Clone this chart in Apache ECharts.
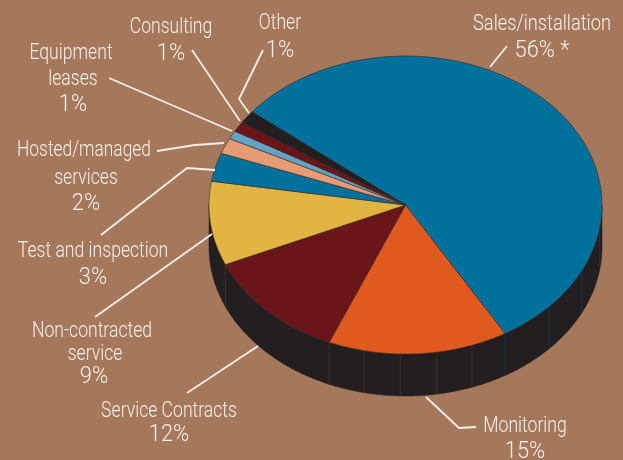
<!DOCTYPE html>
<html><head><meta charset="utf-8">
<style>html,body{margin:0;padding:0;background:#a5785c}#c{width:623px;height:460px}</style>
<script src="https://cdn.jsdelivr.net/npm/echarts@6/dist/echarts.min.js"></script>
</head><body><div id="c"></div>
<script>
const categories = ['Sales/installation','Monitoring','Service Contracts','Non-contracted service','Test and inspection','Hosted/managed services','Equipment leases','Consulting','Other'];
// slice sizes as drawn in the picture (the printed labels round these)
const values = [55.8,14.8,12.1,9.1,3.1,1.7,0.9,1.1,1.4];
const colors = ['#00719c','#e0591e','#69151a','#e2b441','#00719c','#e59b74','#5fa4c4','#69151a','#231f20'];
const wallFacets = [12,5,1,1,1,1,1,1,1];
const wallLineColors = ['#0d4058','#5a2c1a','#4a3430','#3a3430','#231f20','#231f20','#231f20','#231f20','#231f20'];

const geo = {cx:405.5, cy:205, rx:196.5, ry:149, depth:42, start:-51.3};
const total = values.reduce((a,b)=>a+b,0);
function pt(t,dy){const r=t*Math.PI/180;return [geo.cx+geo.rx*Math.sin(r), geo.cy-geo.ry*Math.cos(r)+(dy||0)];}
function arc(a,b,dy){const n=Math.max(2,Math.ceil(Math.abs(b-a)));const o=[];for(let i=0;i<=n;i++)o.push(pt(a+(b-a)*i/n,dy));return o;}

function renderSlice(params, api){
  const i=params.dataIndex;
  let sum=0; for(let k=0;k<i;k++) sum+=values[k];
  const a=geo.start+sum/total*360, b=a+api.value(0)/total*360;
  const children=[];
  for(const off of [0,360]){
    const s=Math.max(a+off,90), e=Math.min(b+off,270);
    if(e>s){
      children.push({type:'polygon',z2:1,shape:{points:arc(s,e,0).concat(arc(e,s,geo.depth))},style:{fill:'#231f20',stroke:'#231f20',lineWidth:0.5}});
      const n=wallFacets[i], step=(b-a)/n;
      for(let k=0;k<n;k++){
        const t=b+off-k*step;
        if(t>90&&t<270){const p=pt(t),q=pt(t,geo.depth);
          children.push({type:'line',z2:2,shape:{x1:p[0],y1:p[1],x2:q[0],y2:q[1]},style:{stroke:wallLineColors[i],lineWidth:0.7}});}
      }
    }
  }
  children.push({type:'polygon',z2:5,shape:{points:[[geo.cx,geo.cy]].concat(arc(a,b,0))},style:{fill:colors[i],stroke:'#3a2a26',lineWidth:0.6}});
  return {type:'group',children};
}

const ink='#f6f0e9', fontFamily='Roboto,sans-serif';
const T=(t,x,y,sx)=>({type:'text',z:10,x,y:y+1,scaleX:sx||0.8,style:{text:t,fill:ink,font:'300 22px '+fontFamily,align:'center',verticalAlign:'middle'}});
const P=(t,x,y)=>({type:'text',z:10,x,y:y+1,scaleX:0.95,style:{text:t,fill:ink,font:'300 23px '+fontFamily,align:'center',verticalAlign:'middle'}});
const L=(pts)=>({type:'polyline',z:10,shape:{points:pts},style:{stroke:ink,lineWidth:1.8,fill:null}});

const chart=echarts.init(document.getElementById('c'),null,{renderer:'canvas'});
chart.setOption({
  backgroundColor:'#a5785c',
  animation:false,
  series:[{type:'custom',coordinateSystem:'none',renderItem:renderSlice,
    data:values.map((v,i)=>({name:categories[i],value:[v]}))}],
  graphic:[
    T('Other',280,22),P('1%',280,50),L([[263,50],[239,99],[249,113]]),
    T('Consulting',171,26),P('1%',171,53),L([[192,50],[240,121]]),
    T('Equipment',71,52),T('leases',73,78),P('1%',73,104),L([[109,78],[232,131]]),
    T('Hosted/managed',84,149,0.79),T('services',86,177),P('2%',86,203),L([[157,151],[195,145],[224,143]]),
    T('Test and inspection',93,250),P('3%',93,277),L([[101,235],[187,168],[215,170]]),
    T('Non-contracted',92,330),T('service',95,353),P('9%',94,376),L([[95,317],[212,234]]),
    T('Service Contracts',169,410),P('12%',169,434),L([[187,393],[258,346]]),
    T('Monitoring',525,425),P('15%',525,451),L([[426,397],[459,428],[476,427]]),
    T('Sales/installation',542,23,0.83),P('56% *',542,50),L([[507,46],[490,67]])
  ]
});
</script></body></html>
